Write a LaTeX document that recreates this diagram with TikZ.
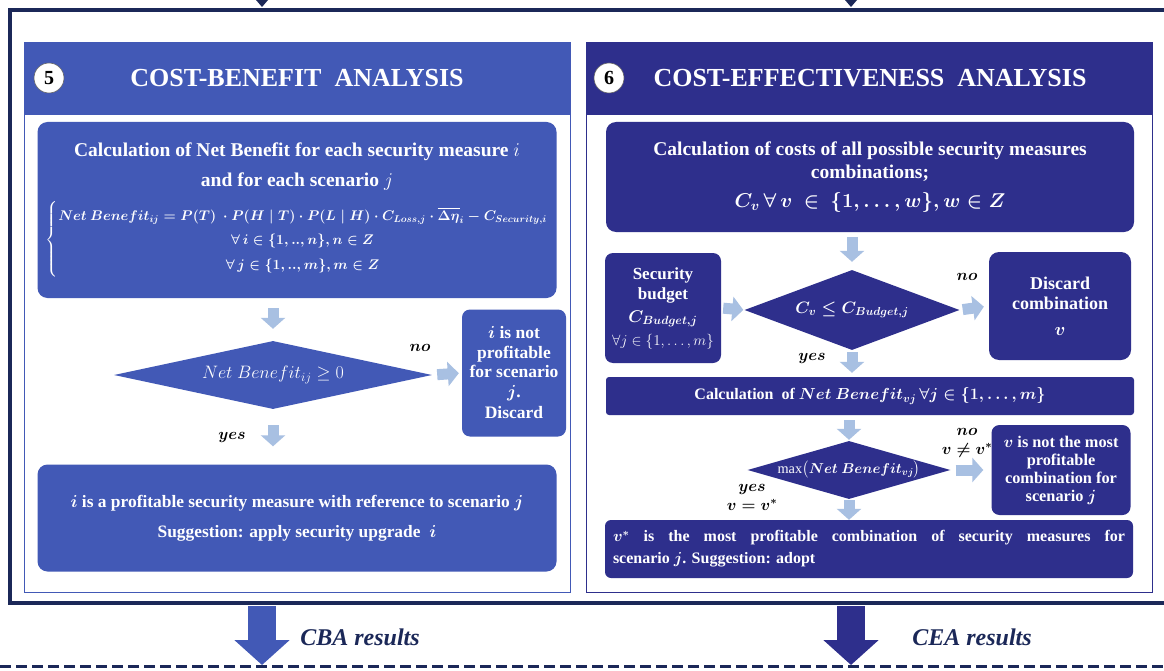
\RequirePackage{fix-cm}
\documentclass[tikz,border=0pt]{standalone}
\usepackage{amsmath,amssymb}
\usepackage{fontspec}
\setmainfont{Liberation Serif}
\usepackage{tikz}
\usetikzlibrary{arrows.meta}
\usetikzlibrary{positioning, shapes.geometric}

\definecolor{cbablue}{RGB}{66,89,182}
\definecolor{ceanavy}{RGB}{46,47,140}
\definecolor{framenavy}{RGB}{27,40,88}
\definecolor{flowlight}{RGB}{168,192,226}

\begin{document}
\begin{tikzpicture}[
    x=1pt, y=-1pt,
    panel frame/.style={
        draw=#1, line width=1.2pt, fill=white,
        anchor=north west, inner sep=0pt,
        minimum width=546pt, minimum height=550pt
    },
    panel head/.style={
        fill=#1, anchor=north west, inner sep=0pt,
        minimum width=546pt, minimum height=73pt
    },
    head title/.style={text=white, font=\fontsize{26}{30}\selectfont\bfseries},
    step num/.style={
        circle, fill=white, draw=black!60, line width=0.6pt,
        minimum size=30pt, inner sep=0pt,
        font=\fontsize{20}{20}\selectfont\bfseries
    },
    flow box/.style={
        rounded corners=10pt, fill=#1, text=white,
        align=flush center, inner sep=2pt, font=\bfseries
    },
    decision/.style={diamond, fill=#1, text=white, inner sep=0pt, aspect=3},
    flow/.style={draw=flowlight, line width=11pt, -{Triangle[width=24pt,length=11pt]}},
    answer/.style={align=center, font=\fontsize{16}{19}\selectfont\boldmath},
    big flow/.style={draw=#1, line width=28pt, -{Triangle[width=54pt,length=25pt]}},
    result label/.style={text=framenavy, font=\fontsize{24}{28}\selectfont\bfseries\itshape}
]
    \useasboundingbox (0,0) rectangle (1164,671);

    % 外框
    \draw[framenavy, line width=3.5pt] (1170,10) -- (10,10) -- (10,603) -- (1170,603);
    \fill[framenavy] (256,0) -- (268,0) -- (262,7) -- cycle;
    \fill[framenavy] (845,0) -- (857,0) -- (851,7) -- cycle;

    % 左侧 CBA
    \node[panel frame=cbablue] (cbapanel) at (24,42) {};
    \node[panel head=cbablue] (cbahead) at (24,42) {};
    \node[step num] (num5) at (49,78) {5};
    \node[head title] (cbatitle) at (297,78) {COST-BENEFIT\ \ ANALYSIS};

    \node[flow box=cbablue, text width=515pt, minimum width=519pt, minimum height=176pt,
          font=\fontsize{19.5}{30}\selectfont\bfseries] (nbcalc) at (297,210) {%
        Calculation of Net Benefit for each security measure $i$\\
        and for each scenario $j$\par\vspace{11pt}
        {\fontsize{14}{17}\selectfont\boldmath
        $\left\{\renewcommand{\arraystretch}{1.45}\begin{array}{@{}c@{}}
            Net\ Benefit_{ij} = P(T)\ \cdot P(H\mid T)\cdot P(L\mid H)\cdot C_{Loss,j}\cdot\overline{\Delta\eta}_i - C_{Security,i}\\
            \forall\, i \in \{1,..,n\}, n\in Z\\
            \forall\, j \in \{1,..,m\}, m\in Z
        \end{array}\right.$\par}};

    \node[decision=cbablue, minimum width=318pt, minimum height=68pt,
          font=\fontsize{18}{20}\selectfont] (nbcheck) at (273,375) {$Net\ Benefit_{ij} \geq 0$};

    \node[flow box=cbablue, rounded corners=8pt, text width=100pt, minimum width=102pt, minimum height=127pt,
          font=\fontsize{17.5}{19.5}\selectfont\bfseries\boldmath] (notprof) at (514,373)
          {$i$ is not\\ profitable\\ for scenario\\ $j$.\\[2pt] Discard};

    \node[flow box=cbablue, text width=515pt, minimum width=519pt, minimum height=107pt,
          font=\fontsize{17.4}{30}\selectfont\bfseries\boldmath] (goodmeas) at (297,518)
          {$i$ is a profitable security measure with reference to scenario $j$\\
           Suggestion: apply\ security upgrade\ \ $i$};

    \draw[flow, shorten <=10pt, shorten >=12pt] (nbcalc.south -| nbcheck) -- (nbcheck.north);
    \draw[flow, shorten <=5pt, shorten >=3pt] (nbcheck.east) -- (notprof.west);
    \draw[flow, shorten <=16pt, shorten >=18pt] (nbcheck.south) -- (goodmeas.north -| nbcheck);

    \node[answer] (cbano) at (420,348) {$no$};
    \node[answer] (cbayes) at (232,437) {$yes$};

    % 右侧 CEA
    \node[panel frame=ceanavy, minimum width=566pt] (ceapanel) at (586,42) {};
    \node[panel head=ceanavy, minimum width=566pt] (ceahead) at (586,42) {};
    \node[step num] (num6) at (609,78) {6};
    \node[head title] (ceatitle) at (870,78) {COST-EFFECTIVENESS\ \ ANALYSIS};

    \node[flow box=ceanavy, text width=524pt, minimum width=528pt, minimum height=110pt,
          font=\fontsize{19.5}{23}\selectfont\bfseries] (costcalc) at (870,177)
          {Calculation of costs of all possible security measures\\
           combinations;\\[6pt]
           {\fontsize{20}{23}\selectfont\boldmath$C_v\,\forall\, v\ \in\ \{1,\dots,w\}, w\in Z$}};

    \node[flow box=ceanavy, rounded corners=8pt, text width=112pt, minimum width=114pt, minimum height=110pt,
          font=\fontsize{17}{20}\selectfont\bfseries] (budget) at (663,308)
          {Security\\ budget\\[3pt] {\boldmath$C_{Budget,j}$}\\[3pt]
           {\fontsize{15}{18}\selectfont$\forall j\in\{1,\ldots,m\}$}};

    \node[decision=ceanavy, minimum width=215pt, minimum height=80pt,
          font=\fontsize{16.5}{18}\selectfont\boldmath] (budgetcheck) at (852,310)
          {$C_v \leq C_{Budget,j}$};

    \node[flow box=ceanavy, text width=138pt, minimum width=140pt, minimum height=108pt,
          font=\fontsize{18}{20}\selectfont\bfseries\boldmath] (dropcomb) at (1060,306)
          {Discard\\ combination\\[6pt] $v$};

    \node[flow box=ceanavy, rounded corners=3pt, text width=524pt, minimum width=528pt, minimum height=38pt,
          font=\fontsize{16}{18}\selectfont\bfseries\boldmath] (nbcalcv) at (870,396)
          {Calculation\ \ of $Net\ Benefit_{vj}\,\forall j\in\{1,\dots,m\}$};

    \node[decision=ceanavy, aspect=3.5, minimum width=202pt, minimum height=58pt,
          font=\fontsize{14.3}{16}\selectfont] (maxcheck) at (849,470)
          {$\max\bigl(\boldsymbol{Net\ Benefit_{vj}}\bigr)$};

    \node[flow box=ceanavy, rounded corners=8pt, text width=135pt, minimum width=137pt, minimum height=90pt,
          font=\fontsize{16.3}{18}\selectfont\bfseries\boldmath] (notbest) at (1061,470)
          {$v$ is not the most\\ profitable\\ combination for\\ scenario $j$};

    \node[flow box=ceanavy, rounded corners=6pt, text width=512pt, minimum width=528pt, minimum height=58pt,
          align=justify, font=\fontsize{16}{22}\selectfont\bfseries\boldmath] (bestcomb) at (869,549)
          {$v^{*}$ is the most profitable combination of security measures for\linebreak
           scenario $j$. Suggestion: adopt};

    \draw[flow, shorten <=5pt, shorten >=8pt] (costcalc.south -| budgetcheck) -- (budgetcheck.north);
    \draw[flow, shorten <=2pt, shorten >=1pt] (budget.east) -- (budgetcheck.west);
    \draw[flow, shorten <=3pt, shorten >=5pt] (budgetcheck.east) -- (dropcomb.west);
    \draw[flow, shorten <=2pt, shorten >=4pt] (budgetcheck.south) -- (nbcalcv.north -| budgetcheck);
    \draw[flow, shorten <=5pt, shorten >=1pt] (nbcalcv.south -| maxcheck) -- (maxcheck.north);
    \draw[flow, shorten <=5pt, shorten >=8pt] (maxcheck.east) -- (notbest.west);
    \draw[flow, shorten <=1pt, shorten >=0pt] (maxcheck.south) -- (bestcomb.north -| maxcheck);

    \node[answer] (ceano) at (967,277) {$no$};
    \node[answer] (ceayes) at (812,358) {$yes$};
    \node[answer] (maxno) at (967,443) {$no$\\ $v\neq v^{*}$};
    \node[answer] (maxyes) at (752,497) {$yes$\\ $v=v^{*}$};

    % 结果
    \draw[framenavy, line width=3pt, dash pattern=on 11pt off 5pt] (0,666) -- (1164,666);
    \coordinate (cbaout) at (262,606);
    \coordinate (cbaend) at (262,665);
    \coordinate (ceaout) at (851,606);
    \coordinate (ceaend) at (851,665);
    \draw[big flow=cbablue] (cbaout) -- (cbaend);
    \draw[big flow=ceanavy] (ceaout) -- (ceaend);
    \node[result label] (cbares) at (360,637) {CBA results};
    \node[result label] (ceares) at (972,637) {CEA results};
\end{tikzpicture}
\end{document}
